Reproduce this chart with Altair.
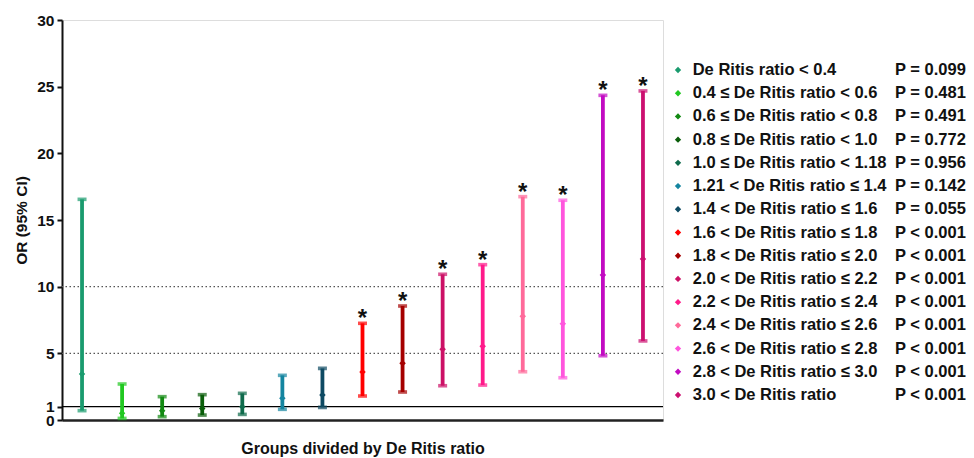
import altair as alt
import pandas as pd

# ---------------- data ----------------
groups = list(range(1, 16))
labels = [
    "De Ritis ratio < 0.4",
    "0.4 ≤ De Ritis ratio < 0.6",
    "0.6 ≤ De Ritis ratio < 0.8",
    "0.8 ≤ De Ritis ratio < 1.0",
    "1.0 ≤ De Ritis ratio < 1.18",
    "1.21 < De Ritis ratio ≤ 1.4",
    "1.4 < De Ritis ratio ≤ 1.6",
    "1.6 < De Ritis ratio ≤ 1.8",
    "1.8 < De Ritis ratio ≤ 2.0",
    "2.0 < De Ritis ratio ≤ 2.2",
    "2.2 < De Ritis ratio ≤ 2.4",
    "2.4 < De Ritis ratio ≤ 2.6",
    "2.6 < De Ritis ratio ≤ 2.8",
    "2.8 < De Ritis ratio ≤ 3.0",
    "3.0 < De Ritis ratio",
]
or_values = [3.45, 0.50, 0.70, 0.87, 1.00, 1.63, 1.88, 3.60, 4.25, 5.30, 5.53, 7.78, 7.22, 10.88, 12.08]
ci_lower = [0.70, 0.12, 0.25, 0.37, 0.42, 0.80, 0.95, 1.80, 2.10, 2.57, 2.62, 3.62, 3.17, 4.82, 5.93]
ci_upper = [16.55, 2.70, 1.75, 1.90, 2.00, 3.35, 3.87, 7.25, 8.55, 10.93, 11.65, 16.75, 16.48, 24.35, 24.68]
p_labels = [
    "P = 0.099", "P = 0.481", "P = 0.491", "P = 0.772", "P = 0.956",
    "P = 0.142", "P = 0.055", "P < 0.001", "P < 0.001", "P < 0.001",
    "P < 0.001", "P < 0.001", "P < 0.001", "P < 0.001", "P < 0.001",
]
significant = [False] * 7 + [True] * 8
colors = [
    "#1A9B6E", "#21C821", "#138A13", "#0B5E0B", "#0F6B4C",
    "#1485A0", "#0E4A63", "#FF0000", "#A50000", "#CC1166",
    "#FF1A8A", "#FF6A9A", "#FF55DD", "#C20BC2", "#CC1070",
]
y_ticks = [0, 1, 5, 10, 15, 20, 25, 30]
dotted_refs = [5, 10]
solid_refs = [1]

df = pd.DataFrame({
    "group": groups,
    "label": labels,
    "or": or_values,
    "lo": ci_lower,
    "hi": ci_upper,
    "p": p_labels,
    "sig": significant,
})
df["star"] = ["*" if s else "" for s in significant]

FONT = "Liberation Sans"
INK = "#111111"

color = alt.Color("label:N", scale=alt.Scale(domain=labels, range=colors), legend=None)
yscale = alt.Scale(domain=[0, 30], nice=False, zero=True)

x_enc = alt.X(
    "group:Q",
    scale=alt.Scale(domain=[0.5, 15.5], nice=False, zero=False),
    axis=alt.Axis(
        title="Groups divided by De Ritis ratio", labels=False, ticks=False, grid=False,
        domainColor="#222222", domainWidth=2.5,
        titleFont=FONT, titleFontSize=16, titleFontWeight="bold", titleColor=INK,
        titlePadding=20,
    ),
)
y_enc = alt.Y(
    "lo:Q",
    scale=yscale,
    axis=alt.Axis(
        title="OR (95% CI)", values=y_ticks, grid=False,
        labelOverlap=False, labelFlush=False,
        labelFont=FONT, labelFontSize=15.5, labelFontWeight="bold", labelColor=INK,
        labelPadding=3, tickSize=5, tickWidth=2, tickColor=INK,
        domainColor=INK, domainWidth=2,
        titleFont=FONT, titleFontSize=15.5, titleFontWeight="bold", titleColor=INK,
        titlePadding=7,
    ),
)

base = alt.Chart(df)

solid = alt.Chart(pd.DataFrame({"v": solid_refs})).mark_rule(
    color="#000000", strokeWidth=1.3
).encode(y=alt.Y("v:Q", scale=yscale))

dotted = alt.Chart(pd.DataFrame({"v": dotted_refs})).mark_rule(
    color="#555555", strokeWidth=1.3, strokeDash=[1.5, 2.5]
).encode(y=alt.Y("v:Q", scale=yscale))

bars = base.mark_rule(strokeWidth=3.8).encode(x=x_enc, y=y_enc, y2="hi:Q", color=color)
cap_lo = base.mark_tick(orient="horizontal", size=9, thickness=3.6).encode(
    x="group:Q", y=alt.Y("lo:Q", scale=yscale), color=color)
cap_hi = base.mark_tick(orient="horizontal", size=9, thickness=3.6).encode(
    x="group:Q", y=alt.Y("hi:Q", scale=yscale), color=color)
mid = base.mark_point(shape="diamond", filled=True, size=42, opacity=1).encode(
    x="group:Q", y=alt.Y("or:Q", scale=yscale), color=color)
stars = base.transform_filter(alt.datum.sig).mark_text(
    font=FONT, fontSize=24, fontWeight="bold", color=INK, baseline="alphabetic", dy=3
).encode(x="group:Q", y=alt.Y("hi:Q", scale=yscale), text="star:N")

main = alt.layer(dotted, solid, bars, cap_lo, cap_hi, mid, stars)

ly = alt.Y("label:N", sort=labels, scale=alt.Scale(type="point", range=[50, 375], padding=0), axis=None)
leg_pts = base.mark_point(shape="diamond", filled=True, size=40, opacity=1).encode(
    x=alt.value(616), y=ly, color=color)
leg_txt = base.mark_text(
    align="left", baseline="middle", font=FONT, fontSize=16.5, fontWeight="bold", color=INK
).encode(x=alt.value(630.7), y=ly, text="label:N")
leg_p = base.mark_text(
    align="left", baseline="middle", font=FONT, fontSize=16.5, fontWeight="bold", color=INK
).encode(x=alt.value(833), y=ly, text="p:N")

legend = alt.layer(leg_pts, leg_txt, leg_p)

chart = alt.layer(main, legend).resolve_scale(y="independent").properties(
    width=601,
    height=400,
    autosize=alt.AutoSizeParams(type="none"),
    padding={"left": 54, "top": 12, "right": 303, "bottom": 38},
).configure_view(strokeWidth=0).configure(background="white")

chart.save("out.html", embed_options={"renderer": "svg", "actions": False})
